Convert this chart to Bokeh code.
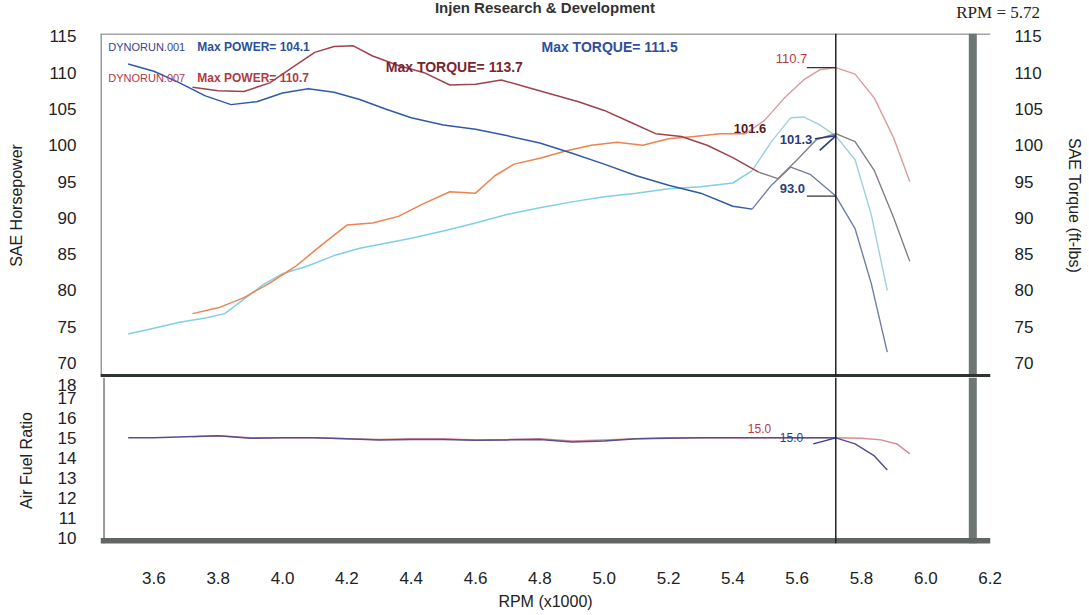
from bokeh.plotting import figure
from bokeh.models import Range1d, LinearAxis, Span, Label, FixedTicker, PrintfTickFormatter, Div
from bokeh.layouts import column
from bokeh.embed import file_html
from bokeh.resources import INLINE

# ---------------- data ----------------
rpm_pw1 = [3.52, 3.60, 3.68, 3.76, 3.82, 3.88, 3.94, 4.00, 4.08, 4.16, 4.24, 4.32, 4.40, 4.50,
           4.60, 4.70, 4.80, 4.90, 5.00, 5.10, 5.20, 5.30, 5.40, 5.46, 5.52, 5.58, 5.62, 5.67,
           5.72, 5.78, 5.83, 5.88]
hp_run1 = [74.0, 74.8, 75.6, 76.2, 76.8, 78.8, 80.8, 82.3, 83.4, 84.8, 85.8, 86.5, 87.2, 88.2,
           89.3, 90.5, 91.4, 92.2, 92.9, 93.4, 94.0, 94.3, 94.8, 96.5, 100.5, 103.8, 103.9, 102.8,
           101.3, 98.0, 90.5, 80.0]

rpm_tq1 = [3.52, 3.60, 3.68, 3.76, 3.84, 3.92, 4.00, 4.08, 4.16, 4.24, 4.32, 4.40, 4.50, 4.60,
           4.70, 4.80, 4.90, 5.00, 5.10, 5.20, 5.30, 5.40, 5.46, 5.52, 5.58, 5.64, 5.72, 5.78,
           5.83, 5.88]
tq_run1 = [111.2, 110.2, 108.6, 106.8, 105.6, 106.0, 107.2, 107.8, 107.3, 106.3, 105.0, 103.8,
           102.8, 102.2, 101.3, 100.3, 98.9, 97.4, 95.8, 94.5, 93.4, 91.6, 91.2, 94.5, 97.0, 96.0,
           93.0, 88.5, 81.0, 71.5]

rpm_pw7 = [3.72, 3.80, 3.88, 3.96, 4.04, 4.12, 4.20, 4.28, 4.36, 4.44, 4.52, 4.60, 4.66, 4.72,
           4.80, 4.88, 4.96, 5.04, 5.12, 5.20, 5.28, 5.36, 5.44, 5.50, 5.56, 5.62, 5.67, 5.72,
           5.78, 5.84, 5.90, 5.95]
hp_run7 = [76.8, 77.6, 79.0, 81.0, 83.3, 86.2, 89.0, 89.3, 90.2, 92.0, 93.6, 93.4, 95.8, 97.4,
           98.2, 99.2, 100.0, 100.4, 100.0, 100.9, 101.2, 101.6, 101.6, 103.5, 106.5, 109.0, 110.4,
           110.7, 109.8, 106.5, 101.0, 95.0]

rpm_tq7 = [3.72, 3.80, 3.88, 3.96, 4.04, 4.10, 4.16, 4.22, 4.28, 4.36, 4.44, 4.52, 4.60, 4.68,
           4.76, 4.84, 4.92, 5.00, 5.08, 5.16, 5.24, 5.32, 5.40, 5.48, 5.54, 5.60, 5.66, 5.72,
           5.78, 5.84, 5.90, 5.95]
tq_run7 = [108.0, 107.5, 107.4, 108.6, 111.0, 112.8, 113.6, 113.7, 112.3, 111.0, 110.0, 108.3,
           108.4, 109.0, 108.0, 107.0, 106.0, 104.8, 103.2, 101.6, 101.2, 100.0, 98.3, 96.3, 95.4,
           98.0, 100.8, 101.6, 100.5, 96.5, 90.0, 84.0]

rpm_afr1 = [3.52, 3.60, 3.70, 3.80, 3.90, 4.00, 4.10, 4.20, 4.30, 4.40, 4.50, 4.60, 4.70, 4.80,
            4.90, 5.00, 5.10, 5.20, 5.30, 5.40, 5.50, 5.60, 5.72, 5.78, 5.84, 5.88]
afr_run1 = [15.0, 15.0, 15.05, 15.1, 14.98, 15.0, 15.0, 14.95, 14.9, 14.92, 14.92, 14.88, 14.9,
            14.92, 14.8, 14.85, 14.95, 14.98, 15.0, 15.0, 15.0, 15.0, 15.0, 14.7, 14.1, 13.4]
rpm_afr7 = [3.72, 3.80, 3.90, 4.00, 4.10, 4.20, 4.30, 4.40, 4.50, 4.60, 4.70, 4.80, 4.90, 5.00,
            5.10, 5.20, 5.30, 5.40, 5.50, 5.60, 5.72, 5.80, 5.86, 5.91, 5.95]
afr_run7 = [15.05, 15.1, 15.0, 15.0, 15.0, 14.95, 14.92, 14.95, 14.95, 14.9, 14.92, 14.95, 14.85,
            14.9, 14.95, 15.0, 15.0, 15.0, 15.0, 15.0, 15.0, 14.98, 14.9, 14.7, 14.2]

x_ticks = [3.6, 3.8, 4.0, 4.2, 4.4, 4.6, 4.8, 5.0, 5.2, 5.4, 5.6, 5.8, 6.0, 6.2]
hp_ticks = [70, 75, 80, 85, 90, 95, 100, 105, 110, 115]
afr_ticks = [10, 11, 12, 13, 14, 15, 16, 17]
afr_top_label = "18"

cursor_rpm = 5.72
max_power_1, max_torque_1 = 104.1, 111.5
max_power_7, max_torque_7 = 110.7, 113.7
at_cursor = {"p7": 110.7, "t7": 101.6, "p1": 101.3, "t1": 93.0, "afr7": 15.0, "afr1": 15.0}
title_text = "Injen Research &amp; Development"

FONT = "Liberation Sans"
C_PW1, C_PW1_TAIL = "#7fcfe6", "#9fcfe0"
C_TQ1, C_TQ1_TAIL = "#2f5aa8", "#6f7fa6"
C_PW7, C_PW7_TAIL = "#ec8350", "#d99a9c"
C_TQ7, C_TQ7_TAIL = "#a0424c", "#857d88"
C_AFR1 = "#5a4f86"
C_AFR7 = "#d88a96"
TAIL_FROM = 5.44   # the ends of the runs are printed paler in the picture

X0, X1 = 3.434, 6.201
Y0, Y1 = 68.0, 115.4
xr = Range1d(X0, X1)
W = 1085
HEAD = 22


def style_axis(ax, size="17px"):
    ax.axis_line_color = None
    ax.major_tick_line_color = None
    ax.minor_tick_line_color = None
    ax.major_label_text_font = FONT
    ax.major_label_text_font_size = size
    ax.major_label_text_color = "#222222"
    ax.axis_label_text_font = FONT
    ax.axis_label_text_font_size = "16px"
    ax.axis_label_text_font_style = "normal"
    ax.axis_label_text_color = "#222222"


def lab(fig, x, y, text, color, size="13px", bold=True, **kw):
    fig.add_layout(Label(x=x, y=y, text=text, text_color=color, text_font=FONT,
                         text_font_size=size, text_font_style="bold" if bold else "normal",
                         text_baseline="middle", **kw))


def run_line(fig, xs, ys, color, tail_color):
    k = next(i for i, v in enumerate(xs) if v >= TAIL_FROM)
    fig.line(xs[:k + 1], ys[:k + 1], line_color=color, line_width=1.5)
    fig.line(xs[k:], ys[k:], line_color=tail_color, line_width=1.4)


# ---------------- header (title and cursor RPM) ----------------
head_html = (
    f'<div style="position:relative;width:{W}px;height:{HEAD}px;">'
    f'<span style="position:absolute;left:0;top:0;width:1090px;text-align:center;'
    f'font-family:\'Liberation Sans\';font-weight:bold;font-size:15px;color:#333;'
    f'line-height:15px;">{title_text}</span>'
    f'<span style="position:absolute;right:45px;top:4px;font-family:\'Liberation Serif\';'
    f'font-size:17px;color:#222;line-height:17px;white-space:nowrap;">RPM = {cursor_rpm}</span>'
    '</div>'
)
header = Div(text=head_html, width=W, height=HEAD, margin=0)

# ---------------- top panel ----------------
p1 = figure(width=W, height=377 - HEAD, x_range=xr, y_range=Range1d(Y0, Y1),
            output_backend="svg", toolbar_location=None,
            min_border_left=100, min_border_right=87, min_border_top=33 - HEAD,
            min_border_bottom=0)
p1.xaxis.visible = False
p1.grid.visible = False
p1.outline_line_color = None

ya = p1.yaxis[0]
ya.ticker = FixedTicker(ticks=hp_ticks)
ya.axis_label = "SAE Horsepower"
ra = LinearAxis(ticker=FixedTicker(ticks=hp_ticks), axis_label="SAE Torque (ft-lbs)")
p1.add_layout(ra, "right")
for ax in (ya, ra):
    style_axis(ax)
    ax.major_label_standoff = 18
    ax.axis_label_standoff = 20

# frame borders
p1.add_layout(Span(location=Y1, dimension="width", line_color="#a5a5a5", line_width=3))
p1.add_layout(Span(location=X0, dimension="height", line_color="#9a9a9a", line_width=3))
p1.add_layout(Span(location=6.146, dimension="height", line_color="#6f7774", line_width=8))
p1.add_layout(Span(location=Y0, dimension="width", line_color="#2f3331", line_width=7))
p1.add_layout(Span(location=cursor_rpm, dimension="height", line_color="#222222", line_width=1.5))

run_line(p1, rpm_pw1, hp_run1, C_PW1, C_PW1_TAIL)
run_line(p1, rpm_pw7, hp_run7, C_PW7, C_PW7_TAIL)
run_line(p1, rpm_tq1, tq_run1, C_TQ1, C_TQ1_TAIL)
run_line(p1, rpm_tq7, tq_run7, C_TQ7, C_TQ7_TAIL)

lab(p1, 3.458, 113.6, "DYNORUN.001", "#3b3f8c", size="11px", bold=False)
lab(p1, 3.735, 113.6, f"Max POWER= {max_power_1}", "#2d4f9e", size="12px")
lab(p1, 4.805, 113.6, f"Max TORQUE= {max_torque_1}", "#2d4f9e", size="14px")
lab(p1, 4.321, 110.85, f"Max TORQUE= {max_torque_7}", "#7a2630", size="14px")
lab(p1, 3.458, 109.2, "DYNORUN.007", "#b23a44", size="11px", bold=False)
lab(p1, 3.735, 109.2, f"Max POWER= {max_power_7}", "#b23a44", size="12px")

# cursor readouts
lab(p1, cursor_rpm, at_cursor["p7"], f"{at_cursor['p7']}", "#b23a44", bold=False,
    x_offset=-60, y_offset=9)
lab(p1, cursor_rpm, at_cursor["t7"], f"{at_cursor['t7']}", "#5a1a20", x_offset=-102, y_offset=5)
lab(p1, cursor_rpm, at_cursor["p1"], f"{at_cursor['p1']}", "#2a3c7a", x_offset=-56, y_offset=-4)
lab(p1, cursor_rpm, at_cursor["t1"], f"{at_cursor['t1']}", "#2a3c7a", x_offset=-56, y_offset=8)
p1.segment(x0=[cursor_rpm - 0.09, cursor_rpm - 0.09], y0=[at_cursor["p7"], at_cursor["t1"]],
           x1=[cursor_rpm, cursor_rpm], y1=[at_cursor["p7"], at_cursor["t1"]],
           line_color="#333333", line_width=1.2)
p1.segment(x0=[cursor_rpm, cursor_rpm], y0=[at_cursor["p1"], at_cursor["p1"]],
           x1=[cursor_rpm - 0.065, cursor_rpm - 0.05],
           y1=[at_cursor["p1"] - 0.4, at_cursor["p1"] - 2.0],
           line_color="#2a3c7a", line_width=1.6)

# ---------------- bottom panel ----------------
p2 = figure(width=W, height=235, x_range=xr, y_range=Range1d(9.75, 18.0),
            output_backend="svg", toolbar_location=None,
            min_border_left=100, min_border_right=87, min_border_top=0, min_border_bottom=65)
p2.grid.visible = False
p2.outline_line_color = None
xa = p2.xaxis[0]
xa.ticker = FixedTicker(ticks=x_ticks)
xa.formatter = PrintfTickFormatter(format="%.1f")
xa.axis_label = "RPM (x1000)"
ya2 = p2.yaxis[0]
TOP_TICK_POS = 17.62          # the "18" label sits squeezed just under the frame's top edge
ya2.ticker = FixedTicker(ticks=afr_ticks + [TOP_TICK_POS])
ya2.major_label_overrides = {TOP_TICK_POS: afr_top_label}
ya2.axis_label = "Air Fuel Ratio"
for ax in (xa, ya2):
    style_axis(ax)
xa.major_label_standoff = 22
xa.axis_label_standoff = 6
ya2.major_label_standoff = 18
ya2.axis_label_standoff = 20

p2.add_layout(Span(location=3.445, dimension="height", line_color="#9a9a9a", line_width=2))
p2.add_layout(Span(location=6.146, dimension="height", line_color="#6f7774", line_width=8))
p2.add_layout(Span(location=9.85, dimension="width", line_color="#5f6664", line_width=7))
p2.add_layout(Span(location=cursor_rpm, dimension="height", line_color="#222222", line_width=1.5))

p2.line(rpm_afr7, afr_run7, line_color=C_AFR7, line_width=1.5)
p2.line(rpm_afr1, afr_run1, line_color=C_AFR1, line_width=1.5)
lab(p2, cursor_rpm, at_cursor["afr7"], f"{at_cursor['afr7']}", "#b23a44", size="12px",
    bold=False, x_offset=-88, y_offset=9)
lab(p2, cursor_rpm, at_cursor["afr1"], f"{at_cursor['afr1']}", "#2a3c9a", size="12px",
    bold=False, x_offset=-56, y_offset=0)
p2.segment(x0=[cursor_rpm], y0=[at_cursor["afr1"]], x1=[cursor_rpm - 0.07],
           y1=[at_cursor["afr1"] - 0.3], line_color="#2a3c9a", line_width=1.4)

layout = column(header, p1, p2, spacing=0)
open("out.html", "w").write(file_html(layout, INLINE))
